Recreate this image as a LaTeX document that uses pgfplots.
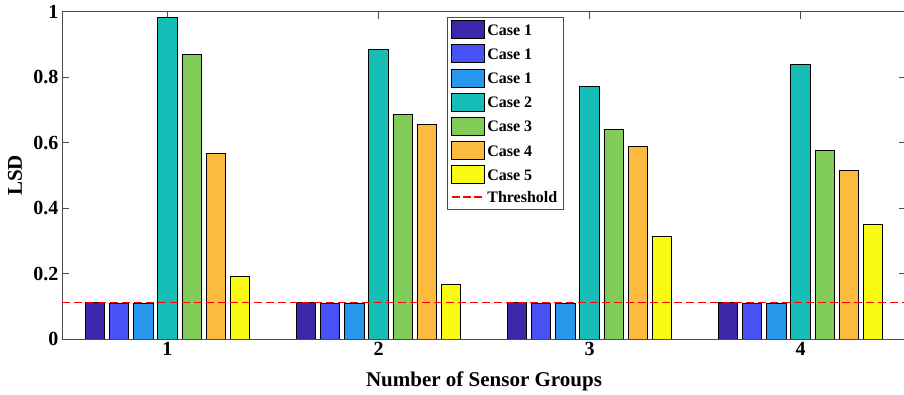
\documentclass[border=0pt]{standalone}
\usepackage{fontspec}
\setmainfont{Liberation Serif}
\usepackage{pgfplots}
\pgfplotsset{compat=1.18}
\usetikzlibrary{calc}
\definecolor{c1}{RGB}{62,38,168}
\definecolor{c2}{RGB}{72,82,244}
\definecolor{c3}{RGB}{39,150,235}
\definecolor{c4}{RGB}{22,190,183}
\definecolor{c5}{RGB}{129,204,89}
\definecolor{c6}{RGB}{252,187,62}
\definecolor{c7}{RGB}{249,251,21}
\pgfplotsset{mybar/.style 2 args={ybar, bar width=0.0924, bar shift=#2, fill=#1, draw=black, line width=0.8pt,
  legend image code/.code={\draw[fill=#1,draw=black,line width=0.8pt] (0pt,-8pt) rectangle (33pt,10pt);}}}
\begin{document}
\begin{tikzpicture}
\begin{axis}[
  width=844pt, height=327.3pt, scale only axis,
  xmin=0.5, xmax=4.5, ymin=0, ymax=1,
  xtick={1,2,3,4}, ytick={0,0.2,0.4,0.6,0.8,1},
  tick align=inside, major tick length=7pt,
  axis line style={draw=black!70, line width=0.6pt},
  tick style={draw=black!70, line width=0.6pt},
  ticklabel style={font=\bfseries\fontsize{20}{20}\selectfont},
  /pgf/number format/assume math mode=true,
  label style={font=\bfseries\fontsize{21}{21}\selectfont},
  xlabel={Number of Sensor Groups}, ylabel={LSD},
  xlabel style={at={(axis description cs:0.5,-0.128)},anchor=center},
  ylabel style={at={(axis description cs:-0.0557,0.5)},anchor=center},
  legend style={at={(0.456,0.984)}, anchor=north west,
    font=\bfseries\fontsize{16}{16}\selectfont,
    draw=black!70, line width=0.6pt, row sep=5.4pt, inner xsep=4pt, inner ysep=3pt},
  legend cell align=left,
]
\coordinate (BL) at (rel axis cs:0,0);
\addplot[mybar={c1}{-0.3441}] coordinates {(1,0.111) (2,0.111) (3,0.111) (4,0.111)};
\addplot[mybar={c2}{-0.2294}] coordinates {(1,0.108) (2,0.108) (3,0.108) (4,0.108)};
\addplot[mybar={c3}{-0.1147}] coordinates {(1,0.110) (2,0.110) (3,0.110) (4,0.110)};
\addplot[mybar={c4}{0}] coordinates {(1,0.983) (2,0.885) (3,0.772) (4,0.840)};
\addplot[mybar={c5}{0.1147}] coordinates {(1,0.869) (2,0.687) (3,0.639) (4,0.575)};
\addplot[mybar={c6}{0.2294}] coordinates {(1,0.567) (2,0.655) (3,0.588) (4,0.516)};
\addplot[mybar={c7}{0.3441}] coordinates {(1,0.192) (2,0.168) (3,0.312) (4,0.349)};
\addplot[draw=red, dash pattern=on 8pt off 4pt, line width=1.2pt,
  legend image code/.code={\draw[draw=red,dash pattern=on 8pt off 3pt,line width=1.2pt] (0pt,1pt) -- (33pt,1pt);}]
  coordinates {(0.5,0.112) (4.5,0.112)};
\legend{Case 1,Case 1,Case 1,Case 2,Case 3,Case 4,Case 5,Threshold}
\end{axis}
\pgfresetboundingbox
\path[use as bounding box] ($(BL)+(-62pt,-56pt)$) rectangle ($(BL)+(842pt,339pt)$);
\end{tikzpicture}
\end{document}
